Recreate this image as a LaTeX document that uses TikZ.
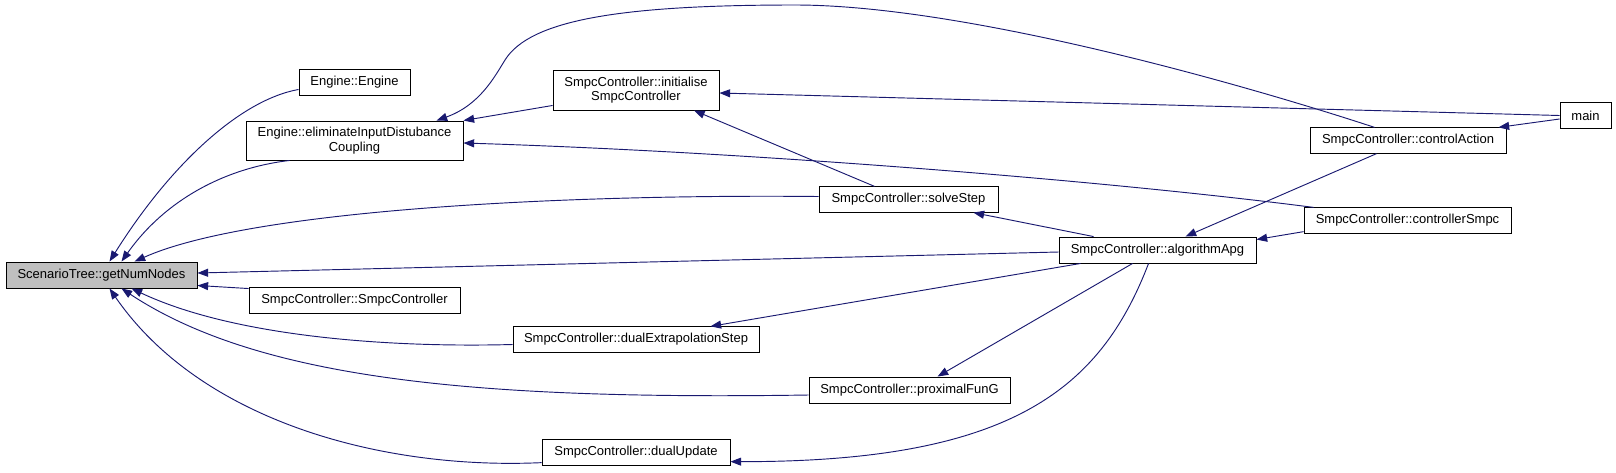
\documentclass[tikz,border=0pt]{standalone}
\usepackage{fontspec}
\setmainfont{Liberation Sans}
\usetikzlibrary{positioning,arrows.meta,calc}
\definecolor{edgeBlue}{RGB}{25,25,112}
\definecolor{rootGray}{RGB}{191,191,191}

\begin{document}
\begin{tikzpicture}[x=0.75pt,y=-0.75pt,
      fn/.style={draw=black,fill=white,line width=0.7pt,inner sep=0pt,minimum height=19pt,align=center,font=\fontsize{9.75}{11}\selectfont},
      root/.style={fn,fill=rootGray},
      call/.style={-{Triangle[length=8pt,width=6pt]},edgeBlue,line width=0.7pt}]
    \useasboundingbox (0,0) rectangle (1616,472);
    \node[root,minimum width=143.25pt,minimum height=19.5pt] (st) at (101.5,275) {ScenarioTree::getNumNodes};
    \node[fn,minimum width=83.25pt,minimum height=19.5pt] (engine) at (354.5,82) {Engine::Engine};
    \node[fn,minimum width=162.75pt,minimum height=29.25pt] (elim) at (354.5,140.5) {Engine::eliminateInputDistubance\\Coupling};
    \node[fn,minimum width=158.25pt,minimum height=19.5pt] (smpcctor) at (354.5,300) {SmpcController::SmpcController};
    \node[fn,minimum width=124.5pt,minimum height=30pt] (init) at (636,90) {SmpcController::initialise\\SmpcController};
    \node[fn,minimum width=184.5pt] (dualext) at (636,339.5) {SmpcController::dualExtrapolationStep};
    \node[fn,minimum width=141pt] (dualupd) at (636,452.5) {SmpcController::dualUpdate};
    \node[fn,minimum width=134.25pt] (solve) at (908.5,199.5) {SmpcController::solveStep};
    \node[fn,minimum width=150.75pt,minimum height=19.5pt] (proxg) at (909.5,390) {SmpcController::proximalFunG};
    \node[fn,minimum width=147.75pt,minimum height=19.5pt] (apg) at (1157.5,250) {SmpcController::algorithmApg};
    \node[fn,minimum width=147pt] (ctrlact) at (1408,140.5) {SmpcController::controlAction};
    \node[fn,minimum width=155.25pt] (ctrlsmpc) at (1407.5,220.5) {SmpcController::controllerSmpc};
    \node[fn,minimum width=38.25pt] (main) at (1585.5,115.5) {main};
    \draw[call] ($(engine.south west)+(0,-6)$) .. controls (240,100) and (170,165) .. ($(st.north west)+(104,0)$);
    \draw[call] ($(elim.south west)+(44,0)$) .. controls (225,168) and (165,200) .. ($(st.north west)+(116,0)$);
    \draw[call] ($(solve.west)+(0,-3)$) .. controls (560,194) and (250,210) .. ($(st.north west)+(129,0)$);
    \draw[call] ($(apg.west)+(0,2)$) -- ($(st.east)+(0,-2)$);
    \draw[call] ($(smpcctor.north west)+(0,2)$) -- ($(st.south east)+(0,-3)$);
    \draw[call] ($(dualext.west)+(0,5)$) .. controls (380,348) and (230,335) .. ($(st.south west)+(126,0)$);
    \draw[call] ($(proxg.west)+(0,5)$) .. controls (480,400) and (260,380) .. ($(st.south west)+(116,0)$);
    \draw[call] ($(dualupd.south west)+(0,-3)$) .. controls (380,470) and (200,420) .. ($(st.south west)+(104,0)$);
    \draw[call] ($(init.south west)+(0,-5)$) -- (elim.north east);
    \draw[call] ($(ctrlact.north west)+(65,0)$) .. controls (1230,80) and (960,5) .. (795,5)
      .. controls (620,5) and (530,20) .. (505,60) .. controls (495,76) and (480,105) .. ($(elim.north west)+(191,0)$);
    \draw[call] ($(ctrlsmpc.north west)+(10,0)$) .. controls (1100,180) and (750,152) .. ($(elim.east)+(0,2.5)$);
    \draw[call] (main.west) -- ($(init.east)+(0,3)$);
    \draw[call] ($(solve.north)+(-34,0)$) -- ($(init.south)+(58,0)$);
    \draw[call] ($(main.west)+(0,3.5)$) -- ($(ctrlact.north east)+(-8,0)$);
    \draw[call] ($(apg.north west)+(35,0)$) -- ($(solve.south east)+(-25,0)$);
    \draw[call] ($(ctrlact.south west)+(67,0)$) -- ($(apg.north west)+(127,0)$);
    \draw[call] ($(ctrlsmpc.south west)+(0,-2)$) -- ($(apg.north east)+(0,3)$);
    \draw[call] ($(apg.south west)+(22,0)$) -- ($(dualext.north east)+(-49,0)$);
    \draw[call] ($(apg.south west)+(74,0)$) -- ($(proxg.north west)+(129,0)$);
    \draw[call] ($(apg.south west)+(90,0)$) .. controls (1100,390) and (1010,462) .. ($(dualupd.south east)+(0,-4)$);
  \end{tikzpicture}
\end{document}
